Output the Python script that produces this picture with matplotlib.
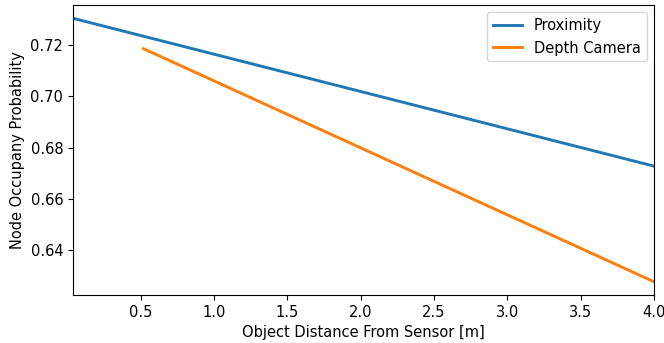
import matplotlib.pyplot as plt

# values
prox_dist = [0.04, 4.0]
prox_prob = [0.7306, 0.6727]
depth_dist = [0.52, 4.0]
depth_prob = [0.7187, 0.6274]

plt.rcParams["font.size"] = 10.5

fig, ax = plt.subplots(figsize=(6.64, 3.43), dpi=100)
ax.plot(prox_dist, prox_prob, color="#1f77b4", linewidth=2.1, label="Proximity")
ax.plot(depth_dist, depth_prob, color="#ff7f0e", linewidth=2.1, label="Depth Camera")

ax.set_xlim(0.04, 4.0)
ax.set_xlabel("Object Distance From Sensor [m]")
ax.set_ylabel("Node Occupany Probability")
ax.legend(loc="upper right")

fig.subplots_adjust(left=0.11, right=0.985, top=0.985, bottom=0.14)
fig.savefig("out.png", dpi=100)
